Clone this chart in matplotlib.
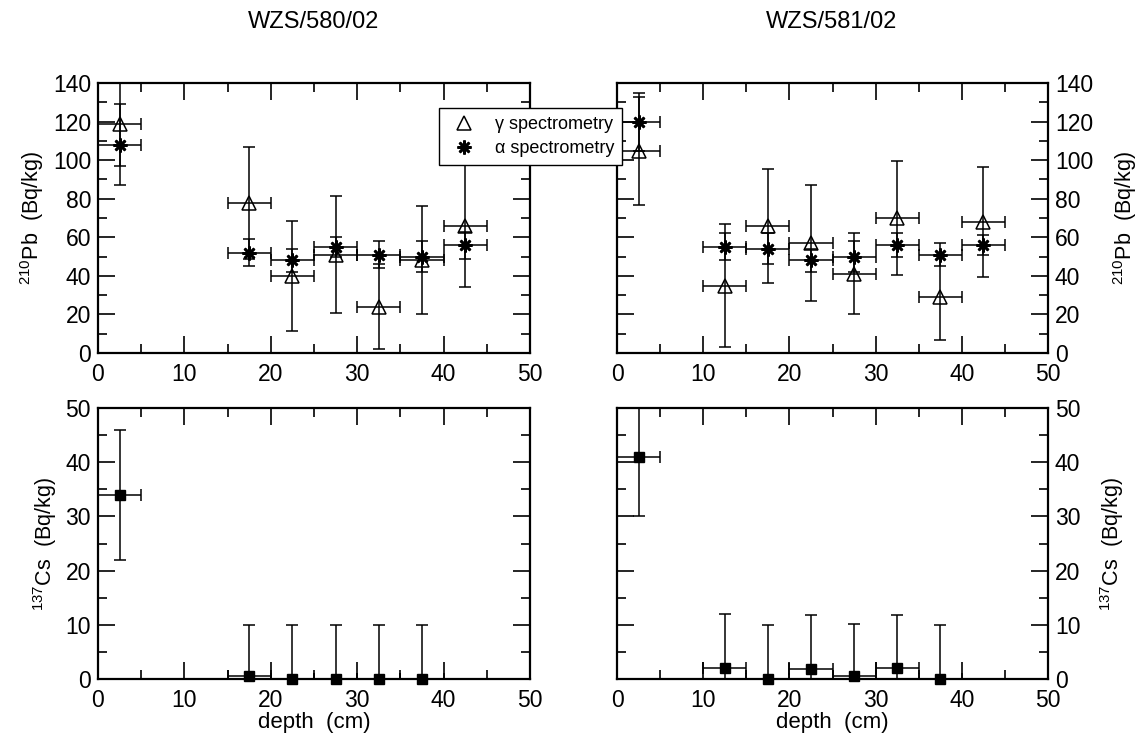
import matplotlib
matplotlib.use("Agg")
import matplotlib.pyplot as plt
from matplotlib.ticker import MultipleLocator

plt.rcParams['font.family'] = ['Liberation Sans', 'DejaVu Sans']
plt.rcParams['mathtext.fontset'] = 'custom'
plt.rcParams['mathtext.rm'] = 'Liberation Sans'
plt.rcParams['mathtext.it'] = 'Liberation Sans'
plt.rcParams['mathtext.bf'] = 'Liberation Sans'

# core WZS/580/02
depth_580 = [2.5, 17.5, 22.5, 27.5, 32.5, 37.5, 42.5]
pb_gamma_580 = [119, 78, 40, 51, 24, 48, 66]
pb_gamma_err_580 = [22, 29, 28.5, 30.5, 22, 28, 32]
pb_alpha_580 = [108, 52, 48, 55, 51, 50, 56]
pb_alpha_err_580 = [21, 7, 6, 5, 7, 8, 7]
cs_depth_580 = [2.5, 17.5, 22.5, 27.5, 32.5, 37.5]
cs_580 = [34, 0.5, 0, 0, 0, 0]
cs_err_580 = [12, 9.5, 10, 10, 10, 10]

# core WZS/581/02
depth_581 = [2.5, 12.5, 17.5, 22.5, 27.5, 32.5, 37.5, 42.5]
pb_gamma_581 = [105, 35, 66, 57, 41, 70, 29, 68]
pb_gamma_err_581 = [28, 32, 29.5, 30, 21, 29.5, 22, 28.5]
pb_alpha_581 = [120, 55, 54, 48, 50, 56, 51, 56]
pb_alpha_err_581 = [15, 7, 8, 6, 8, 6, 6, 5]
cs_depth_581 = [2.5, 12.5, 17.5, 22.5, 27.5, 32.5, 37.5]
cs_581 = [41, 2, 0, 1.8, 0.5, 2.1, 0]
cs_err_581 = [11, 10, 10, 10, 9.7, 9.8, 10]

depth_halfwidth = 2.5

fig = plt.figure(figsize=(11.38, 7.38), dpi=100)
W, H = 1138, 738

def make_axes(x0, x1, y0, y1):
    return fig.add_axes([x0 / W, 1 - y1 / H, (x1 - x0) / W, (y1 - y0) / H])

ax_tl = make_axes(98, 530, 83, 353)
ax_tr = make_axes(617, 1048, 83, 353)
ax_bl = make_axes(98, 530, 408, 679)
ax_br = make_axes(617, 1048, 408, 679)

ebar_kw = dict(fmt='none', ecolor='black', elinewidth=1.1, capsize=4.5, capthick=1.1)
star = (8, 2, 0)

def draw_pb(ax, depth, g, ge, a, ae):
    ax.errorbar(depth, g, yerr=ge, xerr=depth_halfwidth, **ebar_kw)
    ax.errorbar(depth, a, yerr=ae, xerr=depth_halfwidth, **ebar_kw)
    ax.plot(depth, g, ls='none', marker='^', ms=10, mfc='none', mec='black', mew=1.1, zorder=4)
    ax.plot(depth, a, ls='none', marker=star, ms=10, mec='black', mew=1.9, zorder=4)

def draw_cs(ax, depth, v, ve):
    ax.errorbar(depth, v, yerr=ve, xerr=depth_halfwidth, **ebar_kw)
    ax.plot(depth, v, ls='none', marker='s', ms=6.5, mfc='black', mec='black', zorder=4, clip_on=False)

draw_pb(ax_tl, depth_580, pb_gamma_580, pb_gamma_err_580, pb_alpha_580, pb_alpha_err_580)
draw_pb(ax_tr, depth_581, pb_gamma_581, pb_gamma_err_581, pb_alpha_581, pb_alpha_err_581)
draw_cs(ax_bl, cs_depth_580, cs_580, cs_err_580)
draw_cs(ax_br, cs_depth_581, cs_581, cs_err_581)

for ax in (ax_tl, ax_tr):
    ax.set_ylim(0, 140)
    ax.yaxis.set_major_locator(MultipleLocator(20))
    ax.yaxis.set_minor_locator(MultipleLocator(10))
for ax in (ax_bl, ax_br):
    ax.set_ylim(0, 50)
    ax.yaxis.set_major_locator(MultipleLocator(10))
    ax.yaxis.set_minor_locator(MultipleLocator(5))

for ax in (ax_tl, ax_tr, ax_bl, ax_br):
    ax.set_xlim(0, 50)
    ax.xaxis.set_major_locator(MultipleLocator(10))
    ax.xaxis.set_minor_locator(MultipleLocator(5))
    ax.tick_params(which='both', direction='in', top=True, right=True, width=1.2,
                   labelsize=16.5, pad=5)
    ax.tick_params(axis='x', which='both', pad=7.5)
    ax.tick_params(which='major', length=12)
    ax.tick_params(which='minor', length=6.5)
    for s in ax.spines.values():
        s.set_linewidth(1.6)

for ax in (ax_tr, ax_br):
    ax.yaxis.tick_right()
    ax.tick_params(which='both', left=True, labelleft=False, labelright=True)
    ax.yaxis.set_label_position('right')

pb_label = '$^{210}$Pb  (Bq/kg)'
cs_label = '$^{137}$Cs  (Bq/kg)'
ax_tl.set_ylabel(pb_label, fontsize=15.5, labelpad=5)
ax_bl.set_ylabel(cs_label, fontsize=15.5, labelpad=5)
ax_tr.set_ylabel(pb_label, fontsize=15.5, rotation=90, labelpad=13)
ax_br.set_ylabel(cs_label, fontsize=15.5, rotation=90, labelpad=13)
ax_bl.set_xlabel('depth  (cm)', fontsize=16, labelpad=0)
ax_br.set_xlabel('depth  (cm)', fontsize=16, labelpad=0)

fig.text(314 / W, 1 - 22 / H, 'WZS/580/02', ha='center', va='center', fontsize=17)
fig.text(832 / W, 1 - 22 / H, 'WZS/581/02', ha='center', va='center', fontsize=17)

h_g = plt.Line2D([], [], ls='none', marker='^', ms=10, mfc='none', mec='black', mew=1.1)
h_a = plt.Line2D([], [], ls='none', marker=star, ms=10, mec='black', mew=1.9)
leg = fig.legend([h_g, h_a], ['\u03b3 spectrometry', '\u03b1 spectrometry'],
                 loc='upper left', bbox_to_anchor=(439 / W, 1 - 108 / H),
                 fontsize=13, frameon=True, fancybox=False, framealpha=1,
                 borderpad=0.45, handletextpad=0.75, labelspacing=0.4,
                 handlelength=1.9, borderaxespad=0)
leg.get_frame().set_edgecolor('black')
leg.get_frame().set_linewidth(1.0)

fig.savefig('out.png', dpi=100)
